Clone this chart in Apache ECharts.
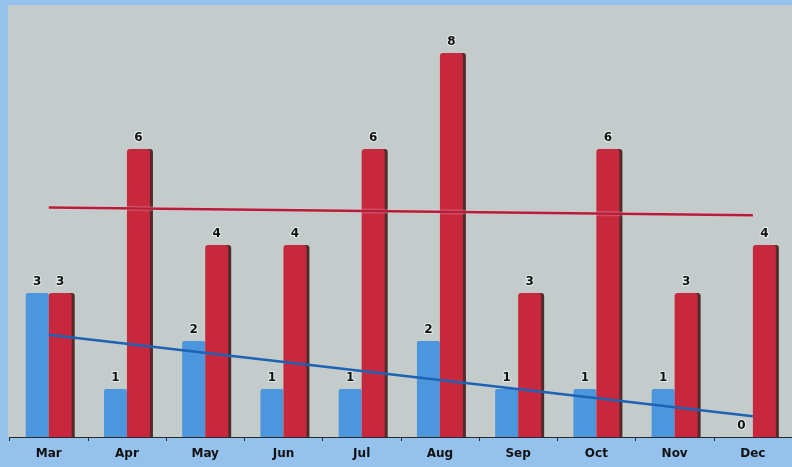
<!DOCTYPE html>
<html>
<head>
<meta charset="utf-8">
<style>
  html, body { margin: 0; padding: 0; background: #94c2ec; }
  #chart { width: 792px; height: 467px; }
</style>
<script src="https://cdn.jsdelivr.net/npm/echarts@6/dist/echarts.min.js"></script>
</head>
<body>
<div id="chart"></div>
<script>
// Monthly counts for two groups, with straight trend lines
const months = ['Mar', 'Apr', 'May', 'Jun', 'Jul', 'Aug', 'Sep', 'Oct', 'Nov', 'Dec'];
const blueValues = [3, 1, 2, 1, 1, 2, 1, 1, 1, 0];
const redValues = [3, 6, 4, 4, 6, 8, 3, 6, 3, 4];
// Trend line end points (first and last month)
const blueTrend = [2.13, 0.43];
const redTrend = [4.78, 4.62];

const chart = echarts.init(document.getElementById('chart'), null, { renderer: 'canvas' });

const labelStyle = {
  show: true,
  position: 'top',
  distance: 5,
  color: '#111',
  fontFamily: 'DejaVu Sans',
  fontWeight: 'bold',
  fontSize: 12,
  textBorderColor: '#e4eaea',
  textBorderWidth: 2
};

chart.setOption({
  backgroundColor: '#94c2ec',
  animation: false,
  graphic: [{
    type: 'rect',
    z: -10,
    silent: true,
    shape: { x: 8, y: 5, width: 792, height: 432 },
    style: { fill: '#c3cbcb' }
  }],
  grid: { left: 9.6, right: -5.6, top: 5, bottom: 30, containLabel: false },
  xAxis: {
    type: 'category',
    data: months,
    boundaryGap: true,
    axisLine: { show: true, lineStyle: { color: '#2a2a2a', width: 1 } },
    axisTick: { show: true, length: 4, lineStyle: { color: '#2a2a2a' } },
    axisLabel: {
      color: '#111',
      fontFamily: 'DejaVu Sans',
      fontWeight: 'bold',
      fontSize: 12,
      margin: 11
    }
  },
  yAxis: {
    type: 'value',
    min: 0,
    max: 9,
    show: false,
    splitLine: { show: false }
  },
  series: [
    {
      name: 'Blue',
      type: 'bar',
      data: blueValues,
      barWidth: 23,
      barGap: '0%',
      itemStyle: { color: '#4c96dd', borderRadius: [2, 2, 0, 0] },
      label: labelStyle,
      z: 2
    },
    {
      name: 'Red',
      type: 'bar',
      data: redValues,
      barWidth: 23,
      itemStyle: {
        color: '#c8283e',
        borderRadius: [3, 3, 0, 0],
        shadowColor: 'rgba(70,25,25,0.9)',
        shadowOffsetX: 3,
        shadowOffsetY: 0,
        shadowBlur: 0
      },
      label: labelStyle,
      z: 3
    },
    {
      name: 'Red trend',
      type: 'line',
      data: [[months[0], redTrend[0]], [months[months.length - 1], redTrend[1]]],
      symbol: 'none',
      lineStyle: { color: '#b41e3c', width: 2.5, shadowColor: 'rgba(255,200,210,0.9)', shadowBlur: 2 },
      z: 5
    },
    {
      name: 'Blue trend',
      type: 'line',
      data: [[months[0], blueTrend[0]], [months[months.length - 1], blueTrend[1]]],
      symbol: 'none',
      lineStyle: { color: '#1e62b4', width: 2.5 },
      z: 5
    }
  ]
});
</script>
</body>
</html>
